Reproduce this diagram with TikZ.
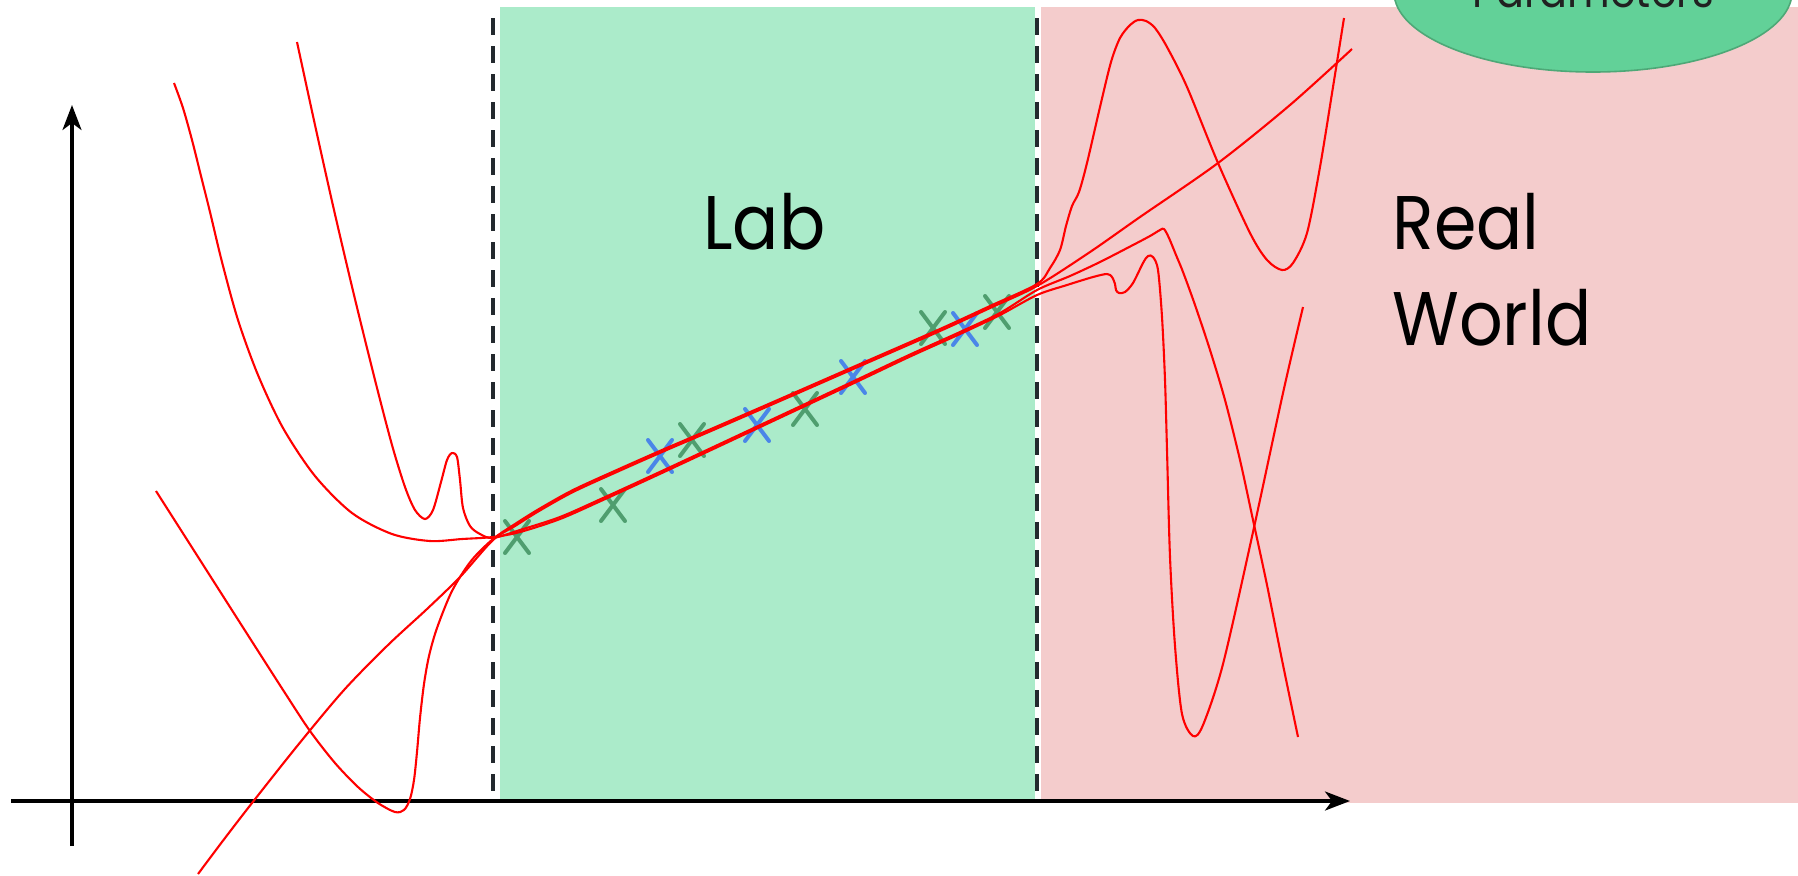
\documentclass[tikz,border=0pt]{standalone}
\usepackage{fontspec}
\setmainfont{Poppins}
\newfontfamily\labelfont[FakeStretch=0.9]{Poppins}
\usetikzlibrary{arrows.meta,shapes.geometric,shapes.misc}
\definecolor{labgreen}{HTML}{ABEBCA}
\definecolor{realpink}{HTML}{F4CCCC}
\definecolor{dashc}{HTML}{23292E}
\definecolor{ellfill}{HTML}{62D198}
\definecolor{elldraw}{HTML}{4EA877}
\definecolor{xgreen}{HTML}{4F9E6F}
\definecolor{xblue}{HTML}{4A86E8}
\definecolor{txtc}{HTML}{212121}
\begin{document}
\begin{tikzpicture}[x=0.5pt,y=-0.5pt,
  divider/.style={draw=dashc,line width=2pt,dash pattern=on 8.25pt off 5.75pt},
  axisline/.style={line width=1.7pt,-{Stealth[length=12.5pt,width=9.5pt,inset=3.5pt]}},
  fitcurve/.style={red,line width=1.05pt,line join=round},
  mk/.style={cross out,draw,line width=2pt,line cap=round,minimum width=10pt,minimum height=14pt,inner sep=0pt},
  gm/.style={mk,draw=xgreen},
  bm/.style={mk,draw=xblue},
  lbl/.style={font=\labelfont\fontsize{38}{46}\selectfont,inner sep=0pt,text=black},
  paramell/.style={ellipse,draw=elldraw,fill=ellfill,line width=0.8pt,minimum width=199pt,minimum height=80pt,inner sep=0pt,text=txtc,font=\labelfont\fontsize{23}{27}\selectfont}
]
\useasboundingbox (0,0) rectangle (1798,875);
% regions
\fill[labgreen] (500,7) rectangle (1035,800);
\fill[realpink] (1041,7) rectangle (1798,803);
\begin{scope}
\clip (0,0) rectangle (1798,875);
\node[paramell] (params) at (1593,-8) {Parameters};
\end{scope}
% dividers
\coordinate (d1t) at (493,18); \coordinate (d1b) at (493,791);
\coordinate (d2t) at (1037,18); \coordinate (d2b) at (1037,791);
\draw[divider] (d1t) -- (d1b);
\draw[divider] (d2t) -- (d2b);
% axes
\coordinate (yb) at (72,846); \coordinate (yt) at (72,105);
\coordinate (xl) at (11,801); \coordinate (xr) at (1350,801);
\draw[axisline] (yb) -- (yt);
\draw[axisline] (xl) -- (xr);
% labels
\node[lbl,anchor=base west] (lab) at (703,249) {Lab};
\node[lbl,anchor=base west] (real) at (1392,249) {Real};
\node[lbl,anchor=base west] (world) at (1392,345) {World};
% markers
\node[gm] (g1) at (517,537) {};
\node[gm] (g2) at (613,505) {};
\node[gm] (g3) at (692,440) {};
\node[gm] (g4) at (805,409) {};
\node[gm] (g5) at (933,328) {};
\node[gm] (g6) at (997,312) {};
\node[bm] (b1) at (660,456) {};
\node[bm] (b2) at (757,425) {};
\node[bm] (b3) at (853,377) {};
\node[bm] (b4) at (965,329) {};
% curve A : U shape -> lower bundle -> wiggle and deep drop
\draw[fitcurve] plot[smooth,tension=0.5] coordinates {(174,83) (183,108) (192,140) (201,176) (210,212) (222,262) (238,320) (258,375) (283,428) (315,476) (352,513) (392,534) (430,541) (462,539) (493,537) (520,532) (560,519) (603,500) (664,472) (756,429) (852,384) (909,357) (960,334) (1000,315) (1037,295) (1067,285) (1093,277) (1107,274) (1112,277) (1115,284) (1116,290) (1119,293) (1125,292) (1133,283) (1143,263) (1148,256) (1153,257) (1158,270) (1162,317) (1165,380) (1167,450) (1170,557) (1175,646) (1182,714) (1193,736) (1203,725) (1223,664) (1253,532) (1283,393) (1303,307)};
% curve B : steep line with wiggle -> lower bundle -> bump and long drop
\draw[fitcurve] plot[smooth,tension=0.5] coordinates {(297,42) (315,125) (334,210) (354,295) (375,380) (392,445) (405,487) (415,510) (425,519) (433,510) (441,482) (447,460) (452,453) (457,457) (460,480) (463,508) (470,526) (480,534) (493,538) (520,530) (560,517) (603,498) (664,470) (756,427) (852,382) (909,355) (960,332) (1000,313) (1037,290) (1070,276) (1100,262) (1133,245) (1150,236) (1160,230) (1164,229) (1169,238) (1176,255) (1183,272) (1195,305) (1210,350) (1225,400) (1240,460) (1253,520) (1267,585) (1282,660) (1298,737)};
% curve C : line dipping below axis -> upper bundle -> big hump
\draw[fitcurve] plot[smooth,tension=0.5] coordinates {(156,491) (200,560) (244,629) (285,693) (310,731) (335,763) (358,787) (378,803) (395,812) (404,810) (410,799) (414,780) (417,752) (420,718) (424,684) (429,656) (437,628) (452,591) (471,561) (493,539) (515,524) (539,509) (573,490) (619,469) (662,450) (711,429) (780,399) (860,364) (940,329) (990,306) (1037,284) (1050,268) (1060,250) (1066,226) (1072,206) (1079,192) (1087,163) (1100,107) (1111,62) (1120,38) (1130,25) (1138,20) (1146,21) (1155,28) (1167,47) (1187,87) (1218,163) (1250,233) (1267,260) (1282,270) (1293,263) (1307,233) (1320,167) (1333,87) (1344,18)};
% curve D : rising line -> upper bundle -> rising line
\draw[fitcurve] plot[smooth,tension=0.5] coordinates {(198,874) (225,838) (252,803) (298,745) (344,690) (388,645) (427,609) (460,577) (493,540) (515,526) (539,511) (573,492) (619,471) (662,452) (711,431) (780,401) (860,366) (940,331) (990,308) (1037,286) (1090,252) (1140,217) (1218,163) (1290,105) (1352,49)};
\end{tikzpicture}
\end{document}
